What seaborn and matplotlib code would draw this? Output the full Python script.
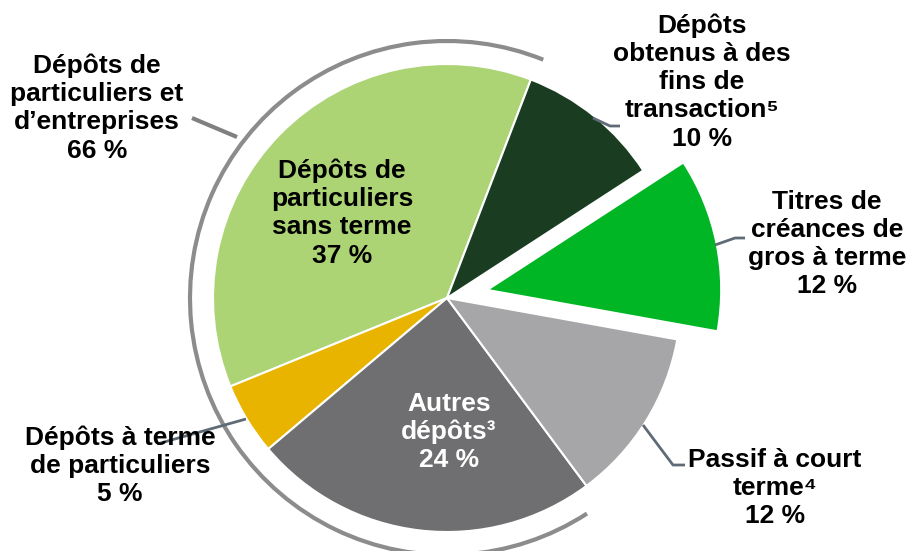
import matplotlib
matplotlib.use("Agg")
import matplotlib.pyplot as plt
from matplotlib.patches import Arc
import seaborn as sns

# ---- data ----
categories = [
    "Dépôts de\nparticuliers\nsans terme",
    "Dépôts à terme\nde particuliers",
    "Autres\ndépôts³",
    "Passif à court\nterme⁴",
    "Titres de\ncréances de\ngros à terme",
    "Dépôts\nobtenus à des\nfins de\ntransaction⁵",
]
values = [37, 5, 24, 12, 12, 10]
colors = ["#acd475", "#e8b400", "#6f6f71", "#a6a6a8", "#00b624", "#1a3d22"]
group_label = "Dépôts de\nparticuliers et\nd’entreprises"
group_value = 66

sns.set_theme(style="white")
plt.rcParams["font.family"] = ["Liberation Sans", "DejaVu Sans"]

W, H = 912, 551
fig = plt.figure(figsize=(W / 100, H / 100), dpi=100)
ax = fig.add_axes([0, 0, 1, 1])

def Y(py):
    return H - py

cx, cy, R = 447, 298, 234
explode = [0, 0, 0, 0, 41, 0]  # matplotlib uses data units for the offset
ax.pie(values, colors=colors, startangle=69, counterclock=True,
       explode=explode, center=(cx, Y(cy)), radius=R,
       wedgeprops=dict(edgecolor="white", linewidth=1.5), frame=False)
ax.set_xlim(0, W)
ax.set_ylim(0, H)
ax.set_aspect("equal")
ax.axis("off")

# outer arc for the 66 % group
ax.add_patch(Arc((cx, Y(cy)), 2 * 257, 2 * 257, theta1=68, theta2=303,
                 color="#8c8c8c", lw=3))

fs = 19
ls = 1.22
def label(x, y, s, color="black"):
    ax.text(x, Y(y), s, ha="center", va="center", fontsize=fs,
            fontweight="bold", color=color, linespacing=ls,
            multialignment="center")

label(97, 108, f"{group_label}\n{group_value} %")
label(342, 213, f"{categories[0]}\n{values[0]} %")
label(120, 466, f"{categories[1]}\n{values[1]} %")
label(449, 432, f"{categories[2]}\n{values[2]} %", color="white")
label(775, 488, f"{categories[3]}\n{values[3]} %")
label(827, 244, f"{categories[4]}\n{values[4]} %")
label(702, 82, f"{categories[5]}\n{values[5]} %")

lc = "#5f6b77"
def leader(pts, color=lc, lw=2):
    ax.plot([p[0] for p in pts], [Y(p[1]) for p in pts], color=color,
            lw=lw, solid_capstyle="butt")

leader([(192, 118), (237, 137)], color="#808080", lw=3)
leader([(593, 118), (610, 126), (620, 126)])
leader([(715, 245), (735, 238), (745, 238)])
leader([(643, 425), (673, 465), (685, 465)])
leader([(246, 419), (157, 444)])

fig.savefig("out.png", dpi=100)
